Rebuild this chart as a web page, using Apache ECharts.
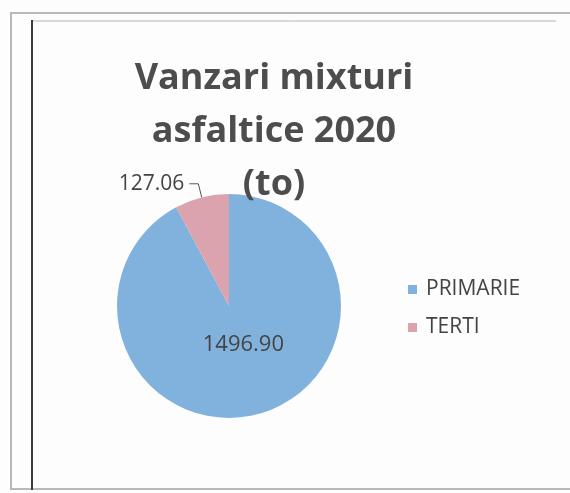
<!DOCTYPE html>
<html>
<head>
<meta charset="utf-8">
<script src="https://cdn.jsdelivr.net/npm/echarts@6/dist/echarts.min.js"></script>
<style>
  html, body { margin: 0; padding: 0; background: #fdfdfd; }
  #chart { width: 570px; height: 493px; }
</style>
</head>
<body>
<div id="chart"></div>
<script>
// data
var categories = ['PRIMARIE', 'TERTI']
var values = [1496.90, 127.06]
var sliceColors = ['#80b2dd', '#dba3ad']
var titleText = 'Vanzari mixturi\nasfaltice 2020\n(to)'

var chart = echarts.init(document.getElementById('chart'))

var pieData = []
for (var i in categories) {
    var item = { name: categories[i], value: values[i], itemStyle: { color: sliceColors[i] } }
    if (i == 0) {
        item.label = { position: 'inside', offset: [0, -18], fontSize: 22 }
        item.labelLine = { show: false }
    } else {
        item.label = { position: 'outside' }
    }
    pieData.push(item)
}

var option = {
    backgroundColor: '#fdfdfd',
    animation: false,
    title: {
        text: titleText,
        left: 269,
        top: 47,
        textAlign: 'center',
        textStyle: {
            fontFamily: 'Open Sans',
            fontWeight: 'bold',
            fontSize: 36,
            lineHeight: 53,
            color: '#4d4d4d'
        }
    },
    legend: {
        orient: 'vertical',
        left: 403,
        top: 274,
        itemWidth: 9,
        itemHeight: 9,
        itemGap: 17,
        icon: 'rect',
        textStyle: { fontFamily: 'Open Sans', fontSize: 21, color: '#444', padding: [0, 0, 0, 4] },
        data: categories
    },
    graphic: [
        { type: 'rect', shape: { x: 11, y: 13, width: 570, height: 476 }, style: { fill: 'none', stroke: '#b8b8b8', lineWidth: 2 } },
        { type: 'line', shape: { x1: 31, y1: 21, x2: 556, y2: 21 }, style: { stroke: '#b7b0c0', lineWidth: 1 } },
        { type: 'line', shape: { x1: 32, y1: 20, x2: 32, y2: 490 }, style: { stroke: '#3a3a3a', lineWidth: 2 } }
    ],
    series: [
        {
            type: 'pie',
            center: [229, 306],
            radius: 112,
            startAngle: 90,
            clockwise: true,
            label: {
                formatter: function (p) { return p.value.toFixed(2) },
                fontFamily: 'Open Sans',
                fontSize: 21,
                color: '#444'
            },
            labelLine: {
                length: 14,
                length2: 9,
                lineStyle: { color: '#555', width: 1 }
            },
            itemStyle: { borderWidth: 0 },
            emphasis: { disabled: true },
            data: pieData
        }
    ]
}
chart.setOption(option)
</script>
</body>
</html>
